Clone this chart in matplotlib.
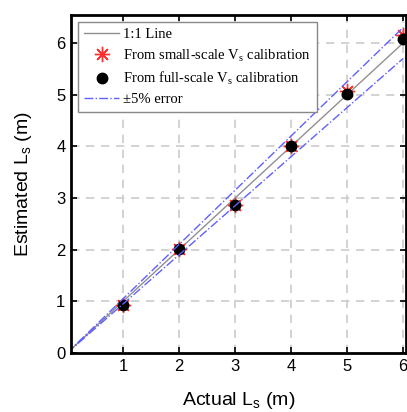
import numpy as np
import matplotlib.pyplot as plt

plt.rcParams['mathtext.fontset'] = 'custom'
plt.rcParams['mathtext.rm'] = 'Liberation Serif'
plt.rcParams['mathtext.sf'] = 'Liberation Sans'

# data
actual = [1, 2, 3, 4, 5, 6]
est_small = [0.93, 2.01, 2.87, 4.01, 5.07, 6.15]
est_full = [0.93, 2.01, 2.86, 4.00, 5.01, 6.07]
line_x = [0, 6]
err = 0.05

fig = plt.figure(figsize=(4.07, 4.12), dpi=100)
ax = fig.add_axes([0.1744, 0.1432, 0.8231, 0.8204])

lx = np.array(line_x)
ax.plot(lx, lx, color='#909090', lw=1.0, label='1:1 Line')
ax.plot(actual, est_small, ls='none', marker=(8, 2, 0), ms=11, mew=1.0,
        color='#ff3030', label='From small-scale V$_\\mathrm{s}$ calibration')
ax.plot(actual, est_full, ls='none', marker='o', ms=7.5, color='black',
        label='From full-scale V$_\\mathrm{s}$ calibration')
ax.plot(lx, lx * (1 + err), color='#6060ff', lw=1.0, ls='-.',
        label='±5% error')
ax.plot(lx, lx * (1 - err), color='#6060ff', lw=1.0, ls='-.')

ax.set_xlim(0.07, 6.05)
ax.set_ylim(0, 6.54)
ax.set_xticks([1, 2, 3, 4, 5, 6])
ax.set_yticks([0, 1, 2, 3, 4, 5, 6])
ax.grid(True, ls=(0, (5, 4)), color='#cccccc', lw=1.2)
ax.tick_params(direction='in', top=True, right=True, length=4, width=1.2,
               labelsize=12, pad=4)
for lab in ax.get_xticklabels() + ax.get_yticklabels():
    lab.set_family('Liberation Sans')
for s in ax.spines.values():
    s.set_linewidth(2.0)

ax.set_xlabel('Actual L$_\\mathsf{s}$ (m)', fontsize=14, family='Liberation Sans',
              labelpad=12)
ax.set_ylabel('Estimated L$_\\mathsf{s}$ (m)', fontsize=14, family='Liberation Sans',
              labelpad=16)

leg = ax.legend(loc='upper left', prop={'family': 'Liberation Serif', 'size': 10.5},
                fancybox=False, edgecolor='#888888', framealpha=1,
                handlelength=2.4, handletextpad=0.3, borderaxespad=0.5,
                labelspacing=0.4)
leg.get_frame().set_linewidth(1.0)

fig.savefig('out.png', dpi=100)
